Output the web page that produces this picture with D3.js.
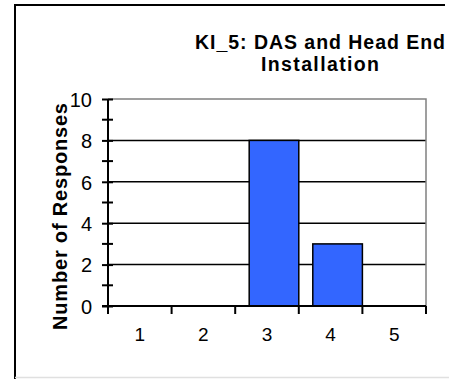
<!DOCTYPE html>
<html>
<head>
<meta charset="utf-8">
<script src="https://cdn.jsdelivr.net/npm/d3@7"></script>
<style>
  html, body { margin: 0; padding: 0; background: #fff; }
  svg { display: block; }
  text { font-family: "Liberation Sans", Arial, sans-serif; }
</style>
</head>
<body>
<script>
// Response counts per rating
const categories = ["1", "2", "3", "4", "5"];
const responses = [0, 0, 8, 3, 0];
const yTicks = [0, 2, 4, 6, 8, 10];
const yMinorTicks = [1, 3, 5, 7, 9];
const titleLines = ["KI_5: DAS and Head End", "Installation"];
const yLabel = "Number of Responses";

const W = 449, H = 379;
const plot = { left: 108, right: 426, top: 99, bottom: 306 };

const svg = d3.select("body").append("svg")
  .attr("width", W).attr("height", H);

// outer frame
svg.append("line").attr("x1", 15).attr("x2", 15).attr("y1", 5).attr("y2", 379)
  .attr("stroke", "#000").attr("stroke-width", 2);
svg.append("line").attr("x1", 14).attr("x2", 445).attr("y1", 5).attr("y2", 5)
  .attr("stroke", "#000").attr("stroke-width", 2);
svg.append("line").attr("x1", 15).attr("x2", 449).attr("y1", 377.5).attr("y2", 377.5)
  .attr("stroke", "#e0e0e0").attr("stroke-width", 1.5);

const x = d3.scaleBand().domain(categories).range([plot.left, plot.right]).padding(0);
const y = d3.scaleLinear().domain([0, 10]).range([plot.bottom, plot.top]);

// gridlines
svg.append("g").selectAll("line").data(yTicks.filter(d => d > 0 && d < 10)).join("line")
  .attr("x1", plot.left).attr("x2", plot.right)
  .attr("y1", d => y(d)).attr("y2", d => y(d))
  .attr("stroke", "#000").attr("stroke-width", 1.5);

// plot border (top and right)
svg.append("path")
  .attr("d", `M${plot.left},${y(10)}H${plot.right}V${plot.bottom}`)
  .attr("fill", "none").attr("stroke", "#808080").attr("stroke-width", 1.5);

// bars, sitting at the right of each band
const bw = x.bandwidth();
svg.append("g").selectAll("rect").data(categories.map((c, i) => ({ c, v: responses[i] })).filter(d => d.v > 0))
  .join("rect")
  .attr("x", d => x(d.c) + bw * 0.22)
  .attr("width", bw * 0.78)
  .attr("y", d => y(d.v))
  .attr("height", d => y(0) - y(d.v))
  .attr("fill", "#3366FF")
  .attr("stroke", "#000").attr("stroke-width", 1.5);

// y axis
const yAxis = svg.append("g").attr("transform", `translate(${plot.left},0)`)
  .call(d3.axisLeft(y).tickValues(yTicks).tickSize(6).tickPadding(10).tickSizeOuter(0));
yAxis.select(".domain").attr("stroke-width", 2).attr("d", `M0,${y(0)}V${y(10)}`);
yAxis.selectAll(".tick line").attr("x1", -6).attr("x2", 5).attr("stroke-width", 2);
yAxis.selectAll(".tick text")
  .attr("font-size", 20).attr("font-family", "Liberation Sans, Arial, sans-serif").attr("fill", "#000")
  .attr("dy", "0.36em");
svg.append("g").selectAll("line").data(yMinorTicks).join("line")
  .attr("x1", plot.left - 6).attr("x2", plot.left + 5)
  .attr("y1", d => y(d)).attr("y2", d => y(d))
  .attr("stroke", "#000").attr("stroke-width", 2);

// x axis
const xEdges = d3.scaleLinear().domain([0, categories.length]).range([plot.left, plot.right]);
const xAxis = svg.append("g").attr("transform", `translate(0,${plot.bottom})`);
xAxis.append("line").attr("x1", plot.left - 6).attr("x2", plot.right)
  .attr("stroke", "#000").attr("stroke-width", 2);
xAxis.selectAll("line.tk").data(d3.range(categories.length + 1)).join("line")
  .attr("class", "tk")
  .attr("x1", d => xEdges(d)).attr("x2", d => xEdges(d))
  .attr("y1", 0).attr("y2", 8)
  .attr("stroke", "#000").attr("stroke-width", 2);
xAxis.selectAll("text").data(categories).join("text")
  .attr("x", d => x(d) + bw / 2).attr("y", 35)
  .attr("text-anchor", "middle").attr("font-size", 19).attr("fill", "#000")
  .text(d => d);

// y-axis title
svg.append("text")
  .attr("transform", `translate(66.5,${216.5}) rotate(-90)`)
  .attr("text-anchor", "middle").attr("font-size", 20).attr("font-weight", "bold")
  .attr("textLength", 227).attr("lengthAdjust", "spacing")
  .attr("fill", "#000")
  .text(yLabel);

// chart title
const titleWidths = [250, 118];
svg.append("g").selectAll("text").data(titleLines).join("text")
  .attr("x", 320).attr("y", (d, i) => 48.5 + i * 22.8)
  .attr("text-anchor", "middle").attr("font-size", 19.5).attr("font-weight", "bold")
  .attr("textLength", (d, i) => titleWidths[i]).attr("lengthAdjust", "spacing")
  .attr("fill", "#000")
  .text(d => d);
</script>
</body>
</html>
